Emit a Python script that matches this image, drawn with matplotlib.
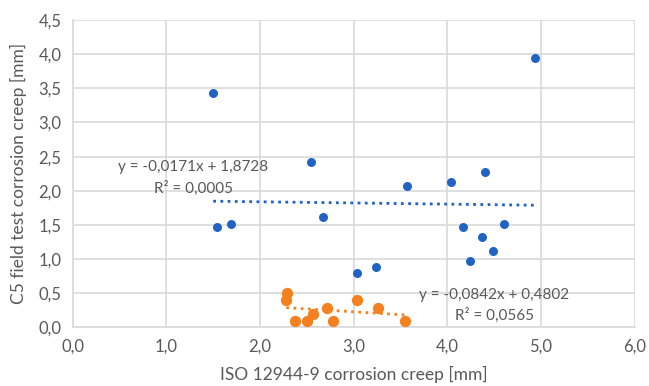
import matplotlib.pyplot as plt
import numpy as np

plt.rcParams['font.family'] = ['Lato', 'DejaVu Sans']

# blue series (all samples)
blue_x = [1.50, 1.54, 1.69, 2.54, 2.67, 3.04, 3.24, 3.57, 4.04, 4.17, 4.24, 4.37, 4.40, 4.49, 4.60, 4.94]
blue_y = [3.43, 1.47, 1.52, 2.42, 1.62, 0.79, 0.89, 2.07, 2.13, 1.47, 0.97, 1.32, 2.28, 1.12, 1.52, 3.95]

# orange series
orange_x = [2.29, 2.28, 2.37, 2.50, 2.57, 2.71, 2.78, 3.03, 3.26, 3.55]
orange_y = [0.51, 0.40, 0.09, 0.09, 0.19, 0.29, 0.09, 0.40, 0.29, 0.09]

# linear trendlines as printed on the chart
blue_fit = (-0.0171, 1.8728, 0.0005)
orange_fit = (-0.0842, 0.4802, 0.0565)

blue = '#2163c2'
orange = '#f4811f'
grey = '#595959'

fig = plt.figure(figsize=(6.49, 3.86), dpi=100)
ax = fig.add_axes([0.112, 0.152, 0.866, 0.796])

ax.scatter(blue_x, blue_y, s=42, color=blue, zorder=3, linewidths=0)
ax.scatter(orange_x, orange_y, s=66, color=orange, zorder=3, linewidths=0)

for xs, fit, col in [(blue_x, blue_fit, blue), (orange_x, orange_fit, orange)]:
    xx = np.array([min(xs), max(xs)])
    ax.plot(xx, fit[0] * xx + fit[1], ls=(0, (1, 1.6)), lw=2, color=col, zorder=2)

def eq_text(fit):
    s = f"{fit[0]:.4f}".replace('.', ',')
    b = f"{fit[1]:.4f}".replace('.', ',')
    r = f"{fit[2]:.4f}".replace('.', ',')
    return f"y = {s}x + {b}\nR² = {r}"

ax.text(1.285, 2.19, eq_text(blue_fit), ha='center', va='center', fontsize=11,
        color=grey, linespacing=1.55)
ax.text(4.50, 0.32, eq_text(orange_fit), ha='center', va='center', fontsize=11,
        color=grey, linespacing=1.55)

ax.set_xlim(0, 6)
ax.set_ylim(0, 4.5)
ax.set_xticks(np.arange(0, 6.01, 1))
ax.set_yticks(np.arange(0, 4.51, 0.5))
ax.set_xticklabels([f"{v:.1f}".replace('.', ',') for v in np.arange(0, 6.01, 1)])
ax.set_yticklabels([f"{v:.1f}".replace('.', ',') for v in np.arange(0, 4.51, 0.5)])
ax.grid(True, color='#d9d9d9', lw=1.2)
ax.set_axisbelow(True)
for side in ['top', 'right']:
    ax.spines[side].set_visible(False)
for side in ['left', 'bottom']:
    ax.spines[side].set_color('#d9d9d9')
    ax.spines[side].set_linewidth(1.2)
ax.tick_params(length=0, labelsize=12, colors=grey, pad=8)

ax.set_xlabel('ISO 12944-9 corrosion creep [mm]', fontsize=12.5, color=grey, labelpad=8)
ax.set_ylabel('C5 field test corrosion creep [mm]', fontsize=12.5, color=grey, labelpad=8)

fig.savefig('out.png', dpi=100)
